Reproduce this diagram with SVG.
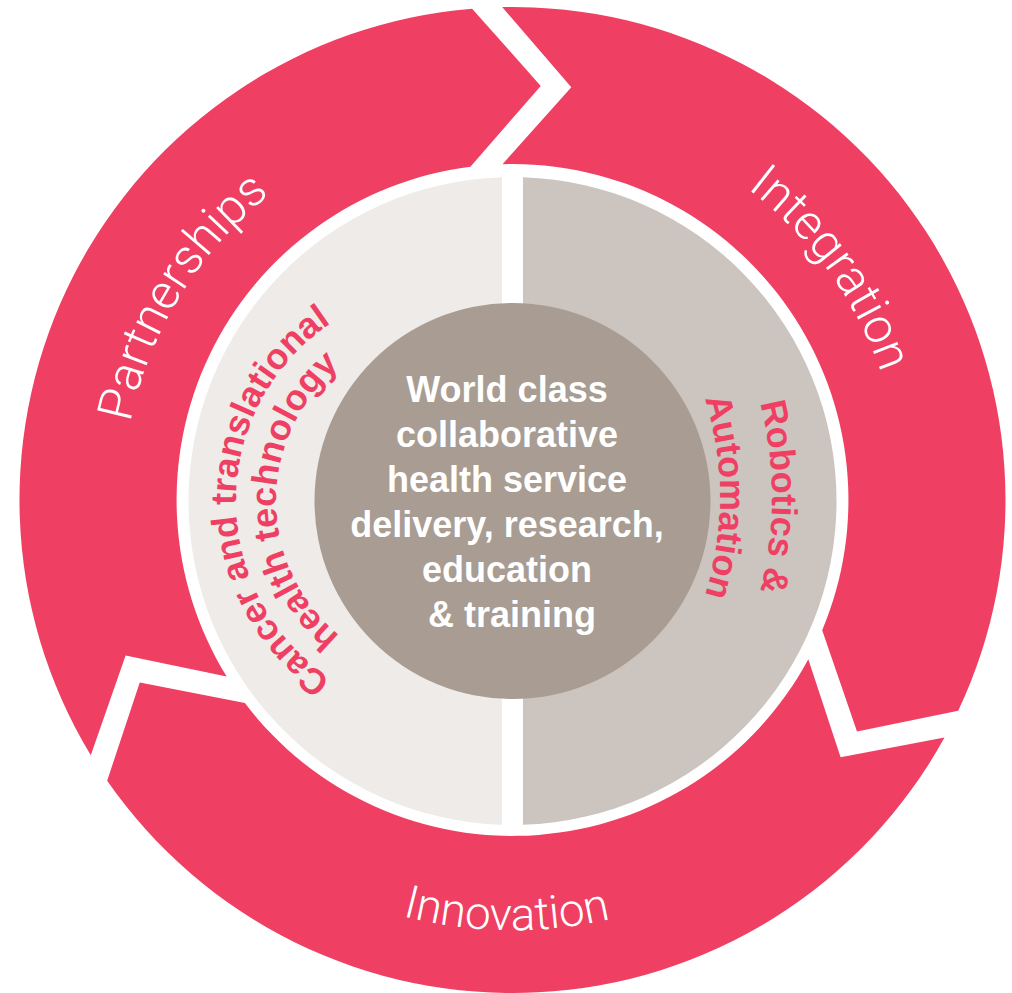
<svg xmlns="http://www.w3.org/2000/svg" width="1012" height="993" viewBox="0 0 1012 993">
<style>
.arrow{fill:#EF3F63}
.outer{fill:#ffffff;font-family:Roboto,"Open Sans",Lato,sans-serif;font-weight:300;font-size:49px}
.inner{fill:#EF3F63;font-family:"Liberation Sans",Arial,sans-serif;font-weight:bold;font-size:36px}
.core{fill:#ffffff;font-family:"Liberation Sans",Arial,sans-serif;font-weight:bold;font-size:36px}
</style>
<defs>
<path id="arrowShape" d="M 502.2 7.1 A 493 493 0 0 1 958.2 710.7 L 857.0 731.5 L 822.2 630.2 A 336 336 0 0 0 502.5 164.2 L 571.3 87.2 Z"/>
<path id="pPartner" d="M 169.76 686.09 A 390 390 0 0 1 522.71 110.13"/>
<path id="pIntegr" d="M 471.73 112.14 A 390 390 0 0 1 868.78 658.63"/>
<path id="pInnov" d="M 137.02 709.78 A 430 430 0 0 0 882.02 720.22"/>
<path id="pLeft1" d="M 487.16 711.75 A 214 214 0 1 1 487.16 290.25"/>
<path id="pLeft2" d="M 480.21 672.36 A 174 174 0 1 1 480.21 329.64"/>
<path id="pRight1" d="M 583.5 170.51 A 377 377 0 0 1 583.5 823.49"/>
<path id="pRight2" d="M 557.5 215.54 A 325 325 0 0 1 557.5 778.46"/>
</defs>
<rect width="1012" height="993" fill="#ffffff"/>
<g id="integration">
<use href="#arrowShape" class="arrow"/>
<text class="outer"><textPath href="#pIntegr" startOffset="50%" text-anchor="middle">Integration</textPath></text>
</g>
<g id="innovation">
<use href="#arrowShape" class="arrow" transform="rotate(120 512.5 500)"/>
<text class="outer" style="font-size:46px"><textPath href="#pInnov" startOffset="50%" text-anchor="middle">Innovation</textPath></text>
</g>
<g id="partnerships">
<use href="#arrowShape" class="arrow" transform="rotate(240 512.5 500)"/>
<text class="outer"><textPath href="#pPartner" startOffset="50%" text-anchor="middle">Partnerships</textPath></text>
</g>
<g id="cancer-health-tech">
<path d="M 502 177.17 A 324 324 0 0 0 502 824.83 Z" fill="#EEEBE8"/>
<text class="inner"><textPath href="#pLeft1" startOffset="50%" text-anchor="middle">Cancer and translational</textPath></text>
<text class="inner"><textPath href="#pLeft2" startOffset="50%" text-anchor="middle">health technology</textPath></text>
</g>
<g id="robotics-automation">
<path d="M 523 177.17 A 324 324 0 0 1 523 824.83 Z" fill="#CBC4BF"/>
<text class="inner"><textPath href="#pRight1" startOffset="50%" text-anchor="middle">Robotics &amp;</textPath></text>
<text class="inner"><textPath href="#pRight2" startOffset="50%" text-anchor="middle">Automation</textPath></text>
</g>
<g id="core">
<circle cx="512.5" cy="501" r="198" fill="#A89C93"/>
<text class="core" text-anchor="middle">
<tspan x="512" y="401.5">World class</tspan>
<tspan x="512" y="446.5">collaborative</tspan>
<tspan x="512" y="491.5">health service</tspan>
<tspan x="512" y="536.5">delivery, research,</tspan>
<tspan x="512" y="581.5">education</tspan>
<tspan x="512" y="626.5">&amp; training</tspan>
</text>
</g>
<g id="connectors"/>
</svg>
